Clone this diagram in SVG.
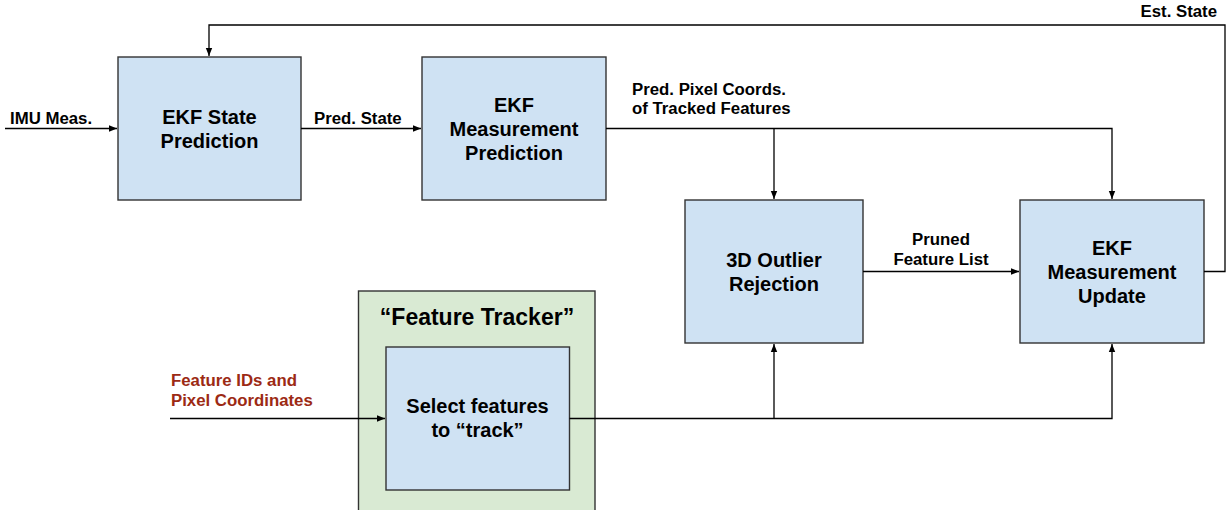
<svg xmlns="http://www.w3.org/2000/svg" width="1229" height="510" viewBox="0 0 1229 510">
<style>
.box{fill:#cfe2f3;stroke:#333;stroke-width:1.4}
.grp{fill:#d9ead3;stroke:#333;stroke-width:1.4}
.t{font-family:"Liberation Sans",Arial,sans-serif;font-weight:bold;font-size:20px;fill:#000;text-anchor:middle}
.l{font-family:"Liberation Sans",Arial,sans-serif;font-weight:bold;font-size:16.8px;fill:#000}
.r{fill:#9c2a14}
.c{fill:none;stroke:#000;stroke-width:1.3}
</style>
<defs>
<marker id="ah" viewBox="0 0 10 10" refX="10" refY="5" markerWidth="8" markerHeight="8" markerUnits="userSpaceOnUse" orient="auto">
<path d="M0,1 L10,5 L0,9 z" fill="#000"/>
</marker>
</defs>
<g id="feature-tracker">
<rect class="grp" x="358.5" y="291" width="236.5" height="230"/>
<text class="t" x="477" y="325" style="font-size:23px">“Feature Tracker”</text>
</g>
<g id="ekf-state-prediction">
<rect class="box" x="118" y="57" width="183" height="143"/>
<text class="t" x="209.5" y="124">EKF State</text>
<text class="t" x="209.5" y="148">Prediction</text>
</g>
<g id="ekf-measurement-prediction">
<rect class="box" x="422" y="57" width="184" height="143"/>
<text class="t" x="514" y="112">EKF</text>
<text class="t" x="514" y="136">Measurement</text>
<text class="t" x="514" y="160">Prediction</text>
</g>
<g id="outlier-rejection">
<rect class="box" x="685" y="200" width="178" height="143"/>
<text class="t" x="774" y="267">3D Outlier</text>
<text class="t" x="774" y="291">Rejection</text>
</g>
<g id="ekf-measurement-update">
<rect class="box" x="1020" y="200" width="184" height="143"/>
<text class="t" x="1112" y="255">EKF</text>
<text class="t" x="1112" y="279">Measurement</text>
<text class="t" x="1112" y="303">Update</text>
</g>
<g id="select-features">
<rect class="box" x="386" y="347" width="183.5" height="143"/>
<text class="t" x="477.5" y="413">Select features</text>
<text class="t" x="477.5" y="437">to “track”</text>
</g>
<g id="connectors">
<path class="c" d="M5,128.5 H117" marker-end="url(#ah)"/>
<path class="c" d="M301,128.5 H421" marker-end="url(#ah)"/>
<path class="c" d="M606,128.5 H1112 V199" marker-end="url(#ah)"/>
<path class="c" d="M774,128.5 V199" marker-end="url(#ah)"/>
<path class="c" d="M863,271.5 H1019" marker-end="url(#ah)"/>
<path class="c" d="M1204,271.5 H1225 V25 H209 V56" marker-end="url(#ah)"/>
<path class="c" d="M170,418.5 H385" marker-end="url(#ah)"/>
<path class="c" d="M569.5,418.5 H1112 V344" marker-end="url(#ah)"/>
<path class="c" d="M774,418.5 V344" marker-end="url(#ah)"/>
</g>
<g id="labels">
<text class="l" x="10" y="124">IMU Meas.</text>
<text class="l" x="314" y="124">Pred. State</text>
<text class="l" x="632" y="95">Pred. Pixel Coords.</text>
<text class="l" x="632" y="114">of Tracked Features</text>
<text class="l" x="1217" y="17" text-anchor="end">Est. State</text>
<text class="l" x="941" y="245" text-anchor="middle">Pruned</text>
<text class="l" x="941" y="265" text-anchor="middle">Feature List</text>
<text class="l r" x="171" y="385.5">Feature IDs and</text>
<text class="l r" x="171" y="405.5">Pixel Coordinates</text>
</g>
</svg>
